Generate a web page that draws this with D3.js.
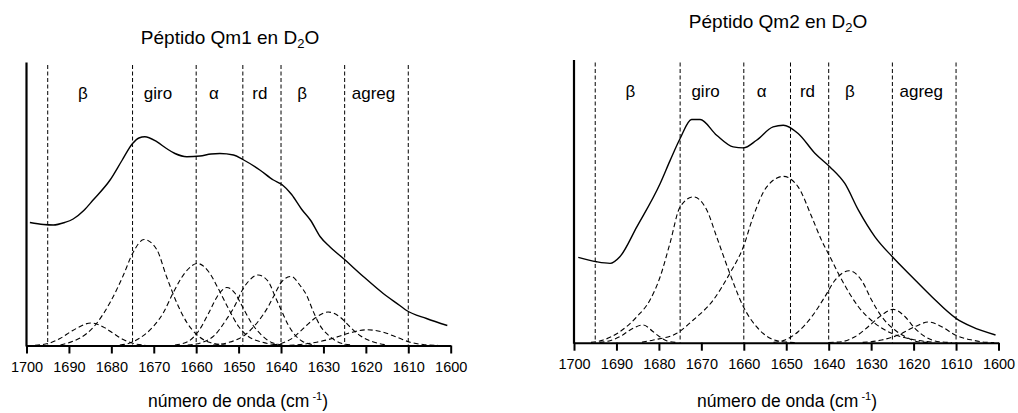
<!DOCTYPE html>
<html>
<head>
<meta charset="utf-8">
<script src="https://cdn.jsdelivr.net/npm/d3@7"></script>
<style>
  body { margin: 0; background: #fff; }
  svg { display: block; font-family: "Liberation Sans", Arial, sans-serif; }
  .axis path, .axis line { stroke: #000; stroke-width: 2; }
  .axis text { font-size: 14.5px; fill: #000; }
</style>
</head>
<body>
<svg id="chart" width="1018" height="413"></svg>
<script>
// x axis ticks (wavenumber, cm-1)
const xTicks = [1700, 1690, 1680, 1670, 1660, 1650, 1640, 1630, 1620, 1610, 1600];

// dashed region borders and labels
const regionBounds = [1695, 1675, 1660, 1649, 1640, 1625, 1610];
const regionLabels = ["β", "giro", "α", "rd", "β", "agreg"];
const regionLabelAt = [1686.7, 1669, 1655.8, 1645, 1635, 1618.2];

// Qm1: measured spectrum [wavenumber, intensity (a.u.)]
const qm1Sum = [[1699.2,123],[1696,121],[1693.7,120.5],[1691,123],[1689,126.5],[1686.5,135],[1684.3,145.5],
  [1680.3,165.5],[1677.5,185],[1675,202],[1673.5,207.5],[1672.1,208.8],[1669.3,203.8],[1667,197],[1665,192],
  [1662.2,188.8],[1659.1,189.5],[1656.5,191.5],[1654.4,192],[1651.2,190.5],[1649,186],[1645,175.5],
  [1641.8,165.5],[1639.8,161],[1637.5,151],[1635.1,136],[1633,125],[1630.8,109],[1628.5,98.8],[1625.3,87],
  [1620.6,69],[1615.9,52],[1612,40],[1610.4,35],[1605.7,27],[1600.8,20]];

// Qm1: fitted component bands
const qm1Band1685 = [[1698,0.3],[1694.9,2],[1692.1,7],[1689,15.3],[1684.8,22.5],[1681.9,18.6],[1679.5,12],[1677.2,6],[1674.8,2],[1672,0.3]];
const qm1Band1672 = [[1692,0.5],[1689,4.3],[1685.8,12],[1683.5,22],[1680.3,43],[1677.2,70],[1675,92],[1672.3,106],[1669.3,96],[1667,69],[1664.6,43],[1662.2,23],[1659.9,11],[1656.7,3],[1653,0.5]];
const qm1Band1660 = [[1678,0.5],[1676,2],[1673.2,7.7],[1670.1,19],[1667.7,33],[1665.4,53],[1662.6,73],[1659.7,82],[1657.1,74],[1654.8,57],[1652.4,37],[1650,19],[1647.7,9],[1644.6,3.5],[1641,0.5]];
const qm1Band1653 = [[1665,0.5],[1661.9,4],[1659.5,14],[1657.1,32],[1654.8,50.5],[1652.8,58],[1650.8,52],[1649.3,40.5],[1646.9,22],[1644.6,10.5],[1642.2,3],[1639.5,0.5]];
const qm1Band1645 = [[1662,0.5],[1658.7,3],[1655.6,10.5],[1653.2,24],[1650.8,40.5],[1649.3,54],[1647.7,64],[1645.4,70.5],[1643,64],[1641.4,49],[1639.8,34],[1638.3,20.5],[1636.7,10.5],[1635.1,4.5],[1632,0.5]];
const qm1Band1638 = [[1656,0.5],[1652.4,3],[1648.5,10.5],[1645.4,24],[1643,39],[1641.4,52],[1639.8,64],[1637.6,69],[1635.5,60],[1634,50.5],[1632.4,34],[1630.8,20],[1628.5,9],[1626,2.5],[1623,0.3]];
const qm1Band1629 = [[1642,0.5],[1640,2],[1637.1,8],[1635.5,14],[1634,20],[1631.6,28.5],[1628.9,33.5],[1626.1,28.5],[1623.7,18.5],[1621.4,10],[1618.2,3.5],[1615,0.5]];
const qm1Band1620 = [[1638,0.3],[1635.5,1],[1631.6,3.3],[1627.7,7.3],[1623.7,12.7],[1619.8,15.7],[1615.9,13.3],[1612.7,8.3],[1609.6,3.3],[1606.5,1],[1603,0.2]];

// Qm2: measured spectrum
const qm2Sum = [[1699,85.4],[1694.7,81],[1691.5,79.4],[1689.2,86],[1685.2,116],[1679.7,159.4],[1677.4,182],
  [1675,204.4],[1672.3,223.4],[1670.3,223.4],[1666.4,207.7],[1662.5,196],[1660.1,195],[1657,202.7],[1653.1,216],
  [1650.7,217.7],[1647.2,209.4],[1643.2,189.4],[1639.7,176],[1636.2,159.4],[1633,132.7],[1629.1,106],[1625,86],
  [1620.4,66],[1615.7,46],[1610,24.4],[1606.3,16],[1600.7,7.7]];

// Qm2: fitted component bands
const qm2Band1684 = [[1694,0.3],[1692,1.5],[1689.2,6],[1686.5,13.5],[1683.7,17.7],[1681.5,11.5],[1680,6.5],[1678.2,2],[1676,0.3]];
const qm2Band1672 = [[1696,0.3],[1693.1,2.7],[1689.2,11],[1685.2,26],[1682.1,42.7],[1679.7,66],[1677.4,99.4],[1675,136],[1671.9,146],[1668.7,132.7],[1666.4,106],[1663.3,69.4],[1660.1,36],[1657,16],[1653.8,4.4],[1650.9,1],[1648,0.2]];
const qm2Band1651 = [[1684,0.5],[1681.3,2.7],[1675.8,9.4],[1671.9,22.7],[1667.2,42.7],[1663.3,69.4],[1660.1,96],[1657.8,126],[1654.6,156],[1650.7,166.5],[1647.2,156],[1644,126],[1641.7,102.7],[1639.7,86],[1636.9,62.7],[1633,36],[1629.1,19.4],[1625.2,9.4],[1620.4,3.4],[1615,0.5]];
const qm2Band1635 = [[1653,0.3],[1650.3,2.7],[1647.2,11],[1644,26],[1640.9,46],[1638.5,62.7],[1635.2,72],[1632.3,62.7],[1629.9,42.7],[1627.5,26],[1624.4,12.7],[1621.2,4.4],[1619,1],[1616,0.2]];
const qm2Band1625 = [[1640,0.2],[1637,1],[1633.8,6],[1630.7,16],[1627.5,27.7],[1624.8,33.4],[1622,26],[1619.7,14.4],[1617.3,6],[1614,1],[1611,0.2]];
const qm2Band1617 = [[1632,0.3],[1627.5,2.7],[1623.6,7.7],[1619.7,16],[1616.5,20.7],[1613.4,16],[1610.2,7.7],[1606.3,2.7],[1603,0.5],[1601,0.2]];

const svg = d3.select("#chart");

// one panel per peptide
const drawPanel = (p) => {
    const x = d3.scaleLinear().domain([1700, 1600]).range([p.left, p.right]);
    const y = d3.scaleLinear().domain([0, 283]).range([p.bottom, p.top]);
    const g = svg.append("g");

    // region borders
    g.selectAll(".border")
        .data(regionBounds)
        .join("line")
        .attr("x1", d => x(d)).attr("x2", d => x(d))
        .attr("y1", p.top + 2.5).attr("y2", p.bottom)
        .attr("stroke", "#000")
        .attr("stroke-width", 1)
        .attr("stroke-dasharray", "4,2.5");

    // region labels
    g.selectAll(".region")
        .data(regionLabels)
        .join("text")
        .attr("x", (d, i) => x(regionLabelAt[i]))
        .attr("y", p.labelY)
        .attr("text-anchor", "middle")
        .attr("font-size", 17)
        .text(d => d);

    const line = d3.line()
        .x(d => x(d[0]))
        .y(d => y(d[1]))
        .curve(d3.curveMonotoneX);

    // fitted bands
    g.selectAll(".band")
        .data(p.bands)
        .join("path")
        .attr("d", line)
        .attr("fill", "none")
        .attr("stroke", "#000")
        .attr("stroke-width", 1.1)
        .attr("stroke-dasharray", "5,3");

    // measured spectrum
    g.append("path")
        .attr("d", line(p.sum))
        .attr("fill", "none")
        .attr("stroke", "#000")
        .attr("stroke-width", 1.4);

    // x axis
    g.append("g")
        .attr("class", "axis")
        .attr("transform", `translate(0, ${p.bottom})`)
        .call(d3.axisBottom(x).tickValues(xTicks).tickFormat(d3.format("d"))
            .tickSize(8).tickSizeOuter(0).tickPadding(8.5));

    // y axis (plain line)
    g.append("line")
        .attr("x1", p.left).attr("x2", p.left)
        .attr("y1", p.top).attr("y2", p.bottom + 1)
        .attr("stroke", "#000")
        .attr("stroke-width", 2.2);

    // title
    const t = g.append("text")
        .attr("x", p.titleX)
        .attr("y", p.titleY)
        .attr("text-anchor", "middle")
        .attr("font-size", 19);
    t.append("tspan").text(p.title);
    t.append("tspan").attr("font-size", 13).attr("dy", 4).text("2");
    t.append("tspan").attr("dy", -4).text("O");

    // axis title
    const a = g.append("text")
        .attr("x", p.axisTitleX)
        .attr("y", 407)
        .attr("text-anchor", "middle")
        .attr("font-size", 17.5);
    a.append("tspan").text("número de onda (cm");
    a.append("tspan").attr("font-size", 11).attr("dx", 3).attr("dy", -7).text("-1");
    a.append("tspan").attr("dy", 7).text(")");
};

drawPanel({
    title: "Péptido Qm1 en D", titleX: 230, titleY: 43.5,
    left: 26.5, right: 450.7, top: 62.5, bottom: 345.5,
    labelY: 99, axisTitleX: 238,
    sum: qm1Sum,
    bands: [qm1Band1685, qm1Band1672, qm1Band1660, qm1Band1653, qm1Band1645, qm1Band1638, qm1Band1629, qm1Band1620]
});

drawPanel({
    title: "Péptido Qm2 en D", titleX: 778, titleY: 27.5,
    left: 574, right: 998.5, top: 60, bottom: 342.7,
    labelY: 96.5, axisTitleX: 787,
    sum: qm2Sum,
    bands: [qm2Band1684, qm2Band1672, qm2Band1651, qm2Band1635, qm2Band1625, qm2Band1617]
});
</script>
</body>
</html>
